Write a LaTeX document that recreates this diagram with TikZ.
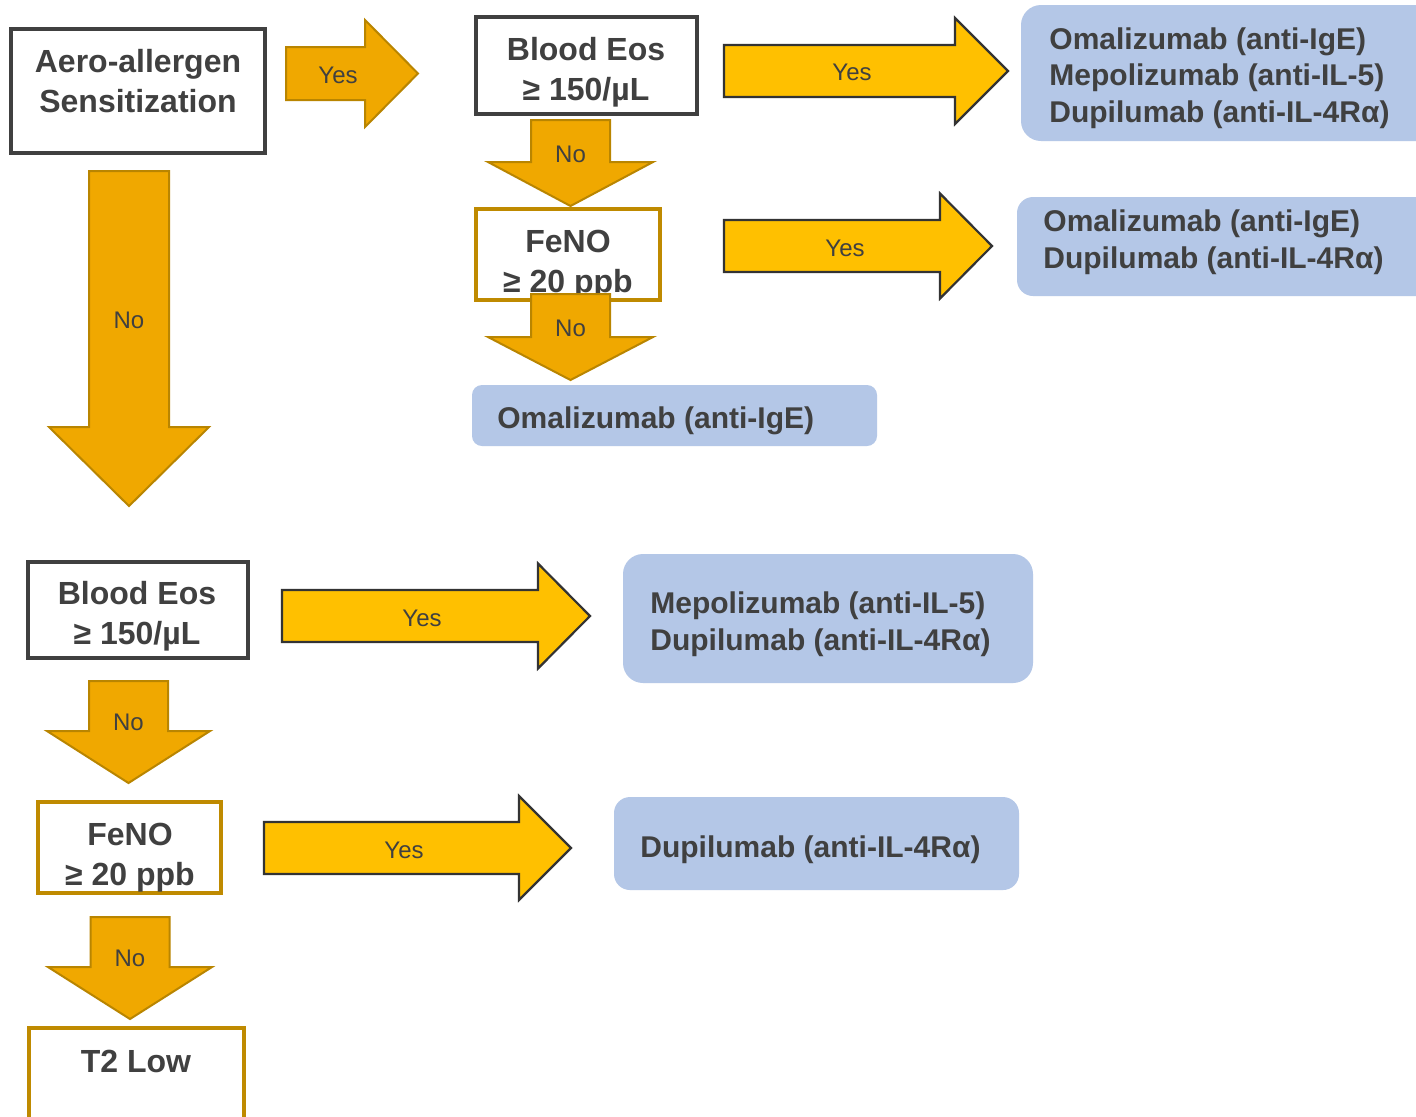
\documentclass[tikz,border=0pt]{standalone}
\usepackage{fontspec}
\setmainfont{Liberation Sans}
\definecolor{txt}{HTML}{404040}
\definecolor{orfill}{HTML}{F0A800}
\definecolor{ordraw}{HTML}{B98500}
\definecolor{yefill}{HTML}{FFC000}
\definecolor{yedraw}{HTML}{333333}
\definecolor{bluebox}{HTML}{B4C7E7}
\definecolor{goldbox}{HTML}{BF8A00}
\newcommand{\myRarrow}[7]{%
  \draw[#1] (#2,{#5-#6}) -- (#3,{#5-#6}) -- (#3,{#5-#7}) -- (#4,#5) -- (#3,{#5+#7}) -- (#3,{#5+#6}) -- (#2,{#5+#6}) -- cycle;}
\newcommand{\myDarrow}[7]{%
  \draw[#1] ({#2-#6},#3) -- ({#2+#6},#3) -- ({#2+#6},#4) -- ({#2+#7},#4) -- (#2,#5) -- ({#2-#7},#4) -- ({#2-#6},#4) -- cycle;}
\begin{document}
\begin{tikzpicture}[x=0.5pt,y=-0.5pt,
  orarrow/.style={fill=orfill,draw=ordraw,line width=1pt,line join=miter},
  yearrow/.style={fill=yefill,draw=yedraw,line width=1.1pt,line join=miter},
  darkframe/.style={draw=txt,line width=1.6pt,fill=white},
  goldframe/.style={draw=goldbox,line width=1.6pt,fill=white},
  bluefill/.style={fill=bluebox,draw=none,rounded corners=#1},
  boxtext/.style={text=txt,font=\bfseries\fontsize{16pt}{20pt}\selectfont,align=center,inner sep=0pt},
  bluetext/.style={text=txt,font=\bfseries\fontsize{15pt}{18.3pt}\selectfont,align=left,anchor=west,inner sep=0pt},
  lbl/.style={text=txt,font=\fontsize{12pt}{14pt}\selectfont,inner sep=0pt}]
\useasboundingbox (0,0) rectangle (1416,1116);
\clip (0,0) rectangle (1416,1116);
\fill[white] (0,0) rectangle (1416,1116);

% Aero-allergen box
\draw[darkframe] (11,29) rectangle (265,153);
\node[boxtext] (aero) at (138,81) {Aero-allergen\\Sensitization};

% Yes arrow 1
\myRarrow{orarrow}{286}{365}{418}{73.5}{26.5}{53.5}
\node[lbl] (yes1) at (338,75) {Yes};

% Blood Eos 1
\draw[darkframe] (476,17) rectangle (697,114);
\node[boxtext] (eos1) at (586,72) {Blood Eos\\≥ 150/µL};

% Yes arrow top right
\myRarrow{yearrow}{724}{955}{1008}{71}{26}{53}
\node[lbl] (yes2) at (852,72) {Yes};

% Blue box 1
\fill[bluefill=10pt] (1021,5) rectangle (1450,141);
\node[bluetext] (blue1) at (1049,78) {Omalizumab (anti-IgE)\\Mepolizumab (anti-IL-5)\\Dupilumab (anti-IL-4Rα)};

% FeNO box 1
\draw[goldframe] (476,209) rectangle (660,300);
\node[boxtext] (feno1) at (568,265) {FeNO\\≥ 20 ppb};

% No arrows top
\myDarrow{orarrow}{570.5}{120}{162}{206}{39.5}{82.5}
\node[lbl] (no1) at (570.5,154) {No};
\myDarrow{orarrow}{570.5}{294}{337}{380}{39.5}{82.5}
\node[lbl] (no2) at (570.5,328) {No};

% Yes arrow 2
\myRarrow{yearrow}{724}{940}{992}{246}{26}{52.5}
\node[lbl] (yes3) at (845,248) {Yes};

% Blue box 2
\fill[bluefill=8pt] (1017,197) rectangle (1450,296);
\node[bluetext] (blue2) at (1043,242) {Omalizumab (anti-IgE)\\Dupilumab (anti-IL-4Rα)};

% Omalizumab single
\fill[bluefill=5pt] (472,385) rectangle (877,446);
\node[bluetext] (blue0) at (497,421) {Omalizumab (anti-IgE)};

% Big No arrow
\myDarrow{orarrow}{129}{171}{427}{506}{40}{80}
\node[lbl] (no3) at (129,320) {No};

% Blood Eos 2
\draw[darkframe] (28,562) rectangle (248,658);
\node[boxtext] (eos2) at (137,616) {Blood Eos\\≥ 150/µL};

% Yes arrow 3
\myRarrow{yearrow}{282}{538}{590}{616}{26}{52.5}
\node[lbl] (yes4) at (422,618) {Yes};

% Blue box 3
\fill[bluefill=10pt] (623,554) rectangle (1033,683);
\node[bluetext] (blue3) at (650,624) {Mepolizumab (anti-IL-5)\\Dupilumab (anti-IL-4Rα)};

% No arrow 3
\myDarrow{orarrow}{128.5}{681}{731}{783}{39.5}{81.5}
\node[lbl] (no4) at (128.5,722) {No};

% FeNO 2
\draw[goldframe] (38,802) rectangle (221,893);
\node[boxtext] (feno2) at (130,858) {FeNO\\≥ 20 ppb};

% Yes arrow 4
\myRarrow{yearrow}{264}{519}{571}{848}{26}{52}
\node[lbl] (yes5) at (404,850) {Yes};

% Blue box 4
\fill[bluefill=8pt] (614,797) rectangle (1019,890);
\node[bluetext] (blue4) at (640,850) {Dupilumab (anti-IL-4Rα)};

% No arrow 4
\myDarrow{orarrow}{130}{917}{967}{1019}{39.5}{82}
\node[lbl] (no5) at (130,958) {No};

% T2 Low
\draw[goldframe] (29,1028) rectangle (244,1130);
\node[boxtext] (t2) at (136,1061) {T2 Low};
\end{tikzpicture}
\end{document}
